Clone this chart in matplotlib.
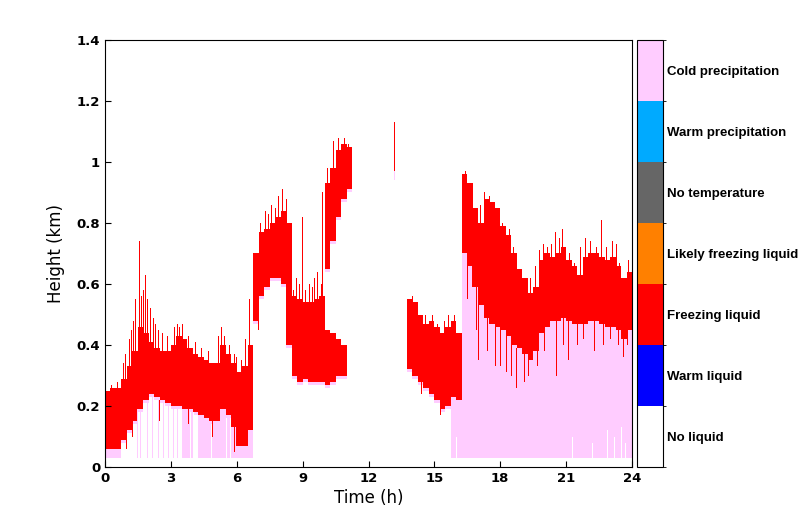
import numpy as np
import matplotlib
matplotlib.use('Agg')
import matplotlib.pyplot as plt
from matplotlib.colors import ListedColormap, BoundaryNorm

# liquid classification classes, bottom -> top of the colour bar
class_names = ['No liquid', 'Warm liquid', 'Freezing liquid', 'Likely freezing liquid',
               'No temperature', 'Warm precipitation', 'Cold precipitation']
class_colors = ['#ffffff', '#0000ff', '#ff0000', '#ff8000', '#666666', '#00aaff', '#ffccff']

# envelopes, one value per 15 min (t = 0, 0.25, ... 23.75 h)
step_h = 0.25
nan = np.nan
top_lo = [0.25, 0.26, 0.26, 0.29, 0.33, 0.38, 0.46, 0.44, 0.41, 0.39, 0.38, 0.38,
          0.40, 0.43, 0.42, 0.39, 0.37, 0.36, 0.35, 0.34, 0.34, 0.40, 0.37, 0.34,
          0.31, 0.33, 0.40, 0.70, 0.77, 0.78, 0.80, 0.82, 0.84, 0.80, 0.56, 0.55,
          0.54, 0.54, 0.55, 0.56, 0.45, 0.44, 0.42, 0.40, nan, nan, nan, nan,
          nan, nan, nan, nan, nan, nan, nan, 0.55, 0.54, 0.50, 0.47, 0.48,
          0.46, 0.44, 0.46, 0.48, 0.44, 0.96, 0.93, 0.85, 0.80, 0.88, 0.87, 0.85,
          0.79, 0.76, 0.70, 0.65, 0.62, 0.57, 0.59, 0.68, 0.70, 0.69, 0.70, 0.72,
          0.68, 0.66, 0.63, 0.69, 0.70, 0.70, 0.69, 0.68, 0.69, 0.66, 0.62, 0.64]
base_lo = [0.06, 0.06, 0.06, 0.09, 0.12, 0.15, 0.19, 0.22, 0.24, 0.23, 0.22, 0.21,
           0.20, 0.20, 0.19, 0.19, 0.18, 0.17, 0.16, 0.15, 0.15, 0.19, 0.17, 0.13,
           0.07, 0.07, 0.12, 0.48, 0.56, 0.59, 0.62, 0.62, 0.60, 0.40, 0.30, 0.28,
           0.29, 0.28, 0.28, 0.28, 0.27, 0.28, 0.30, 0.30, nan, nan, nan, nan,
           nan, nan, nan, nan, nan, nan, nan, 0.32, 0.30, 0.28, 0.26, 0.24,
           0.22, 0.19, 0.20, 0.23, 0.22, 0.70, 0.66, 0.59, 0.53, 0.49, 0.47, 0.46,
           0.45, 0.43, 0.40, 0.39, 0.37, 0.35, 0.38, 0.44, 0.46, 0.48, 0.48, 0.49,
           0.48, 0.47, 0.47, 0.47, 0.48, 0.48, 0.47, 0.46, 0.46, 0.45, 0.42, 0.45]
# 1 = cold precipitation under the liquid layer down to the lowest gate
precip = [1, 1, 1, 0, 0, 0, 0, 0, 0, 0, 0, 0,
          0, 0, 1, 1, 0, 1, 1, 1, 1, 1, 1, 1,
          1, 1, 1, 0, 0, 0, 0, 0, 0, 0, 0, 0,
          0, 0, 0, 0, 0, 0, 0, 0, 0, 0, 0, 0,
          0, 0, 0, 0, 0, 0, 0, 0, 0, 0, 0, 0,
          0, 0, 0, 1, 1, 1, 1, 1, 1, 1, 1, 1,
          1, 1, 1, 1, 1, 1, 1, 1, 1, 1, 1, 1,
          1, 1, 1, 1, 1, 1, 1, 1, 1, 1, 1, 1]
precip_floor = 0.03

# upper liquid layer around 10-11 h
hi_start = 10.0
top_hi = [0.93, 0.98, 1.04, 1.06, 1.05]
base_hi = [0.65, 0.74, 0.82, 0.88, 0.91]

# single profiles whose liquid top pokes above the envelope: time (h), top (km)
up_t = [0.30, 0.55, 0.85, 0.95, 1.10, 1.20, 1.30, 1.40, 1.55, 1.68, 1.75, 1.85,
        1.95, 2.05, 2.20, 2.30, 2.45, 2.60, 2.85, 3.15, 3.30, 3.40, 3.55, 3.80,
        4.10, 4.40, 4.70, 5.15, 5.30, 5.45, 5.65, 5.90, 6.00, 6.20, 6.40, 6.60,
        7.10, 7.30, 7.45, 7.60, 7.75, 7.90, 8.10, 8.25, 8.35, 8.60, 8.70, 8.85,
        9.00, 9.15, 9.30, 9.45, 9.55, 9.70, 9.85, 9.90, 10.15, 10.40, 10.65, 10.90,
        11.10, 13.65, 13.80, 14.00, 14.20, 14.60, 14.90, 15.15, 15.45, 15.65, 15.90, 16.40,
        16.60, 16.75, 17.10, 17.30, 17.50, 17.70, 18.10, 18.40, 18.60, 18.90, 19.20, 19.40,
        19.60, 19.80, 19.95, 20.15, 20.35, 20.50, 20.70, 20.85, 21.15, 21.40, 21.65, 21.90,
        22.10, 22.40, 22.60, 22.85, 23.10, 23.30, 23.45, 23.85]
up_top = [0.27, 0.28, 0.34, 0.37, 0.42, 0.45, 0.48, 0.55, 0.74, 0.56, 0.58, 0.63,
          0.55, 0.52, 0.49, 0.47, 0.45, 0.44, 0.43, 0.46, 0.47, 0.46, 0.47, 0.43,
          0.41, 0.39, 0.38, 0.43, 0.46, 0.43, 0.40, 0.37, 0.36, 0.35, 0.42, 0.55,
          0.80, 0.84, 0.83, 0.86, 0.85, 0.89, 0.91, 0.88, 0.70, 0.58, 0.62, 0.60,
          0.82, 0.58, 0.60, 0.59, 0.62, 0.64, 0.60, 0.90, 0.98, 1.07, 1.08, 1.08,
          1.06, 0.58, 0.55, 0.56, 0.52, 0.50, 0.50, 0.47, 0.48, 0.50, 0.50, 0.97,
          0.92, 0.88, 0.86, 0.90, 0.89, 0.87, 0.80, 0.78, 0.72, 0.65, 0.60, 0.62,
          0.66, 0.71, 0.73, 0.72, 0.73, 0.77, 0.75, 0.78, 0.70, 0.67, 0.72, 0.75,
          0.74, 0.72, 0.81, 0.72, 0.74, 0.73, 0.67, 0.68]
# single profiles whose liquid base reaches below the envelope: time (h), bottom (km)
down_t = [1.00, 1.25, 2.50, 3.80, 4.90, 5.90, 7.00, 14.40, 15.30, 16.50, 16.90, 17.00,
          17.40, 17.80, 18.00, 18.30, 18.50, 18.75, 19.10, 19.30, 19.70, 20.00, 20.55, 20.90,
          21.10, 21.50, 21.80, 22.30, 22.70, 23.00, 23.40, 23.60, 23.80]
down_bot = [0.06, 0.10, 0.15, 0.14, 0.10, 0.05, 0.45, 0.24, 0.17, 0.55, 0.45, 0.35,
            0.38, 0.33, 0.33, 0.31, 0.30, 0.26, 0.28, 0.30, 0.33, 0.38, 0.30, 0.40,
            0.35, 0.40, 0.42, 0.38, 0.40, 0.42, 0.40, 0.36, 0.40]
# isolated liquid profile near 13 h: time, bottom, top
lone_t, lone_bot, lone_top = 13.20, 0.97, 1.13
# isolated precipitation strands under the morning cloud
strand_t = [1.50, 1.60, 1.95, 2.15, 2.45, 2.65, 2.90, 3.10, 3.30]
# profiles with no precipitation echo near the ground: time, gap top (km)
gap_t = [3.90, 4.05, 4.85, 5.55, 5.70, 16.00, 21.30, 22.20, 22.90, 23.20, 23.50, 23.70]
gap_top = [0.18, 0.18, 0.14, 0.16, 0.16, 0.10, 0.10, 0.08, 0.12, 0.10, 0.13, 0.08]

xticks = [0, 3, 6, 9, 12, 15, 18, 21, 24]
yticks = [0, 0.2, 0.4, 0.6, 0.8, 1.0, 1.2, 1.4]

# build the time-height class grid, one column per screen pixel
n_t, n_h = 527, 280
t_edges = np.linspace(0, 24, n_t + 1)
h_edges = np.linspace(0, 1.4, n_h + 1)
tc = 0.5 * (t_edges[:-1] + t_edges[1:])
hc = 0.5 * (h_edges[:-1] + h_edges[1:])
cls = np.zeros((n_h, n_t), dtype=int)
WHITE, RED, PINK = 0, 2, 6


def fill(col, lo, hi, c):
    cls[(hc >= lo) & (hc < hi), col] = c


def column(t):
    return np.searchsorted(t_edges, t) - 1


def base_at(t):
    k = int((t - hi_start) // step_h)
    if 0 <= k < len(base_hi):
        return base_hi[k]
    return base_lo[int(t // step_h)]


for j, t in enumerate(tc):
    i = int(t // step_h)
    b, tp = base_lo[i], top_lo[i]
    if precip[i]:
        fill(j, precip_floor, b, PINK)
    else:
        fill(j, b - 0.012, b, PINK)
    fill(j, b, tp, RED)
    k = int((t - hi_start) // step_h)
    if 0 <= k < len(top_hi):
        fill(j, base_hi[k] - 0.01, base_hi[k], PINK)
        fill(j, base_hi[k], top_hi[k], RED)

for t in strand_t:
    fill(column(t), precip_floor, base_at(t), PINK)
for t, g in zip(gap_t, gap_top):
    fill(column(t), 0, g, WHITE)
for t, tp in zip(up_t, up_top):
    fill(column(t), base_at(t), tp, RED)
for t, bt in zip(down_t, down_bot):
    fill(column(t), bt, base_at(t), RED)
fill(column(lone_t), lone_bot - 0.03, lone_bot, PINK)
fill(column(lone_t), lone_bot, lone_top, RED)

cmap = ListedColormap(class_colors)
norm = BoundaryNorm(np.arange(-0.5, len(class_names) + 0.5, 1), cmap.N)

fig = plt.figure(figsize=(8.08, 5.24), dpi=100)
ax = fig.add_axes([105 / 808, 1 - 467 / 524, 527 / 808, 427 / 524])
mesh = ax.pcolormesh(t_edges, h_edges, cls, cmap=cmap, norm=norm, shading='flat',
                     antialiased=False, rasterized=True)
ax.set_xlim(0, 24)
ax.set_ylim(0, 1.4)
ax.set_xticks(xticks)
ax.set_yticks(yticks)
ax.set_yticklabels([f'{v:g}' for v in yticks])
ax.tick_params(direction='in', length=4, top=False, right=False, labelsize=9.5)
for lab in ax.get_xticklabels() + ax.get_yticklabels():
    lab.set_fontweight('bold')
ax.set_xlabel('Time (h)', fontsize=12, labelpad=3)
ax.set_ylabel('Height (km)', fontsize=12, labelpad=8)
for s in ax.spines.values():
    s.set_linewidth(0.8)

cax = fig.add_axes([637 / 808, 1 - 467 / 524, 26 / 808, 427 / 524])
cb = fig.colorbar(mesh, cax=cax, ticks=range(len(class_names)))
cb.ax.set_yticklabels(class_names)
cb.ax.tick_params(length=0, pad=3, labelsize=9.5)
for lab in cb.ax.get_yticklabels():
    lab.set_fontweight('bold')
    lab.set_fontfamily('Liberation Sans')
cb.outline.set_linewidth(0.8)

fig.savefig('out.png', dpi=100)
